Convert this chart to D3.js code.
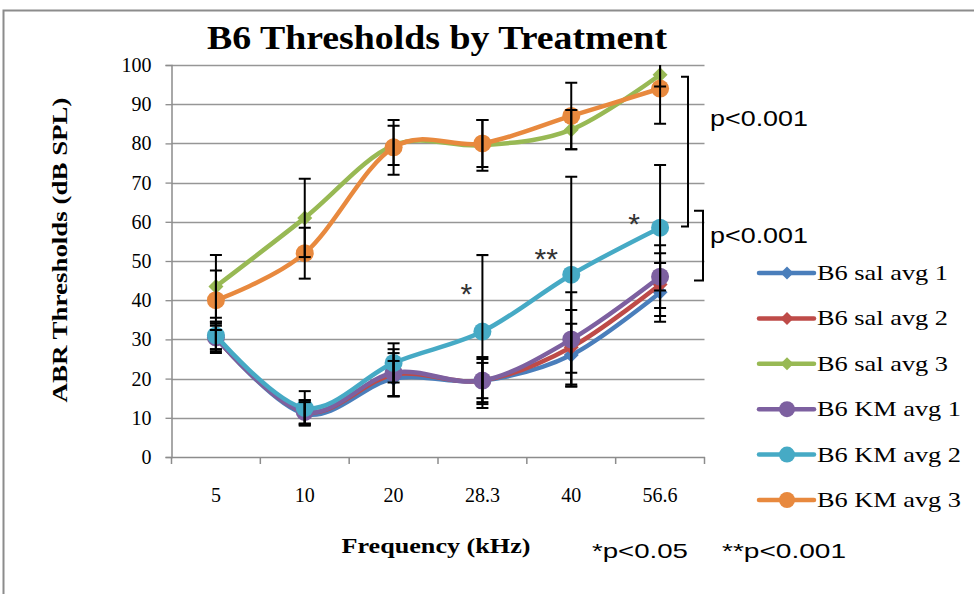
<!DOCTYPE html>
<html><head><meta charset="utf-8">
<script src="https://cdn.jsdelivr.net/npm/d3@7"></script>
<style>html,body{margin:0;padding:0;background:#fff;overflow:hidden}
.sf{font-family:"Liberation Serif","Times New Roman",Tinos,Times,serif}
.ss{font-family:"Liberation Sans",Arial,Arimo,Helvetica,sans-serif}</style>
</head><body><svg id="c" width="974" height="594"></svg>
<script>
const categories = ["5","10","20","28.3","40","56.6"];
const seriesNames = ["B6 sal avg 1","B6 sal avg 2","B6 sal avg 3","B6 KM avg 1","B6 KM avg 2","B6 KM avg 3"];
const salAvg1 = [30.5, 11, 20, 19.5, 26, 42];
const salAvg2 = [30.5, 11.5, 21, 19.5, 28, 44];
const salAvg3 = [43.5, 61, 79.5, 79.5, 83.5, 97.5];
const kmAvg1 = [30.5, 11.5, 21.5, 19.5, 30, 46];
const kmAvg2 = [31, 12.5, 24, 32, 46.5, 58.5];
const kmAvg3 = [40, 52, 79, 80, 87, 94];
const salErr1 = [4, 3, 4.5, 4.5, 8, 7.5];
const salErr2 = [3.5, 3, 5.5, 6, 9.5, 8];
const salErr3 = [8, 10, 5, 6.5, 5, 3];
const kmErr1 = [3, 3, 6, 5.5, 12, 8];
const kmErr2 = [3.5, 4.3, 5, 19.5, 25, 16];
const kmErr3 = [7.6, 6.5, 7, 6, 8.5, 9];
const yTicks = [0,10,20,30,40,50,60,70,80,90,100];
const colors = ["#4A7EBB","#BE4B48","#98B954","#7D60A0","#46AAC5","#E8893E"];
const markers = ["diamond","diamond","diamond","circle","circle","circle"];
const allValues = [salAvg1, salAvg2, salAvg3, kmAvg1, kmAvg2, kmAvg3];
const allErrors = [salErr1, salErr2, salErr3, kmErr1, kmErr2, kmErr3];
const sigStars = [{cat:"28.3", value:43, label:"*", dx:-16}, {cat:"40", value:52, label:"**", dx:-25}, {cat:"56.6", value:61, label:"*", dx:-26}];

const svg = d3.select("#c");

// outer border
svg.append("rect").attr("x",3.5).attr("y",10.5).attr("width",2000).attr("height",2000)
  .attr("fill","none").attr("stroke","#8c8c8c").attr("stroke-width",2);

const L = 171.5, R = 704.5, T = 65, B = 457;
const x = d3.scaleBand().domain(categories).range([L,R]);
const y = d3.scaleLinear().domain([0,100]).range([B,T]);
const cx = c => x(c) + x.bandwidth()/2;

// gridlines
svg.append("g").selectAll("line").data(yTicks.filter(d=>d>0)).join("line")
  .attr("x1",L).attr("x2",R).attr("y1",d=>Math.round(y(d))+0.5).attr("y2",d=>Math.round(y(d))+0.5)
  .attr("stroke","#969696").attr("stroke-width",1.3);

// y axis
const yAxis = svg.append("g").attr("transform",`translate(${L},0)`)
  .call(d3.axisLeft(y).tickValues(yTicks).tickSize(6).tickPadding(14));
yAxis.attr("font-family",null).attr("font-size",null);
yAxis.select(".domain").attr("stroke","#8c8c8c").attr("stroke-width",1.5);
yAxis.selectAll(".tick line").attr("stroke","#8c8c8c").attr("stroke-width",1.3);
yAxis.selectAll(".tick text").attr("class","sf").style("font-size","20px").attr("fill","#000");

// x axis
const xAxis = svg.append("g").attr("transform",`translate(0,${B})`)
  .call(d3.axisBottom(x).tickSize(0).tickPadding(31));
xAxis.attr("font-family",null).attr("font-size",null);
xAxis.select(".domain").attr("stroke","#8c8c8c").attr("stroke-width",1.5);
xAxis.selectAll(".tick text").attr("class","sf").style("font-size","20px").attr("fill","#000");
const edges = categories.map(c=>x(c)).concat([R]);
svg.append("g").selectAll("line").data(edges).join("line")
  .attr("x1",d=>d).attr("x2",d=>d).attr("y1",B).attr("y2",B+7)
  .attr("stroke","#8c8c8c").attr("stroke-width",1.5);

// series lines
svg.append("clipPath").attr("id","pc").append("rect")
  .attr("x",L-20).attr("y",T-12).attr("width",R-L+40).attr("height",B-T+12);
const line = d3.line().x((d,i)=>cx(categories[i])).y(d=>y(d)).curve(d3.curveCardinal.tension(0));
const plot = svg.append("g").attr("clip-path","url(#pc)");
function drawMarker(g, type, px, py, color, s){
  if(type==="diamond"){
    g.append("path").attr("d",`M${px},${py-s}L${px+s},${py}L${px},${py+s}L${px-s},${py}Z`).attr("fill",color);
  } else {
    g.append("circle").attr("cx",px).attr("cy",py).attr("r",s+1.5).attr("fill",color);
  }
}
allValues.forEach((vals,si)=>{
  const g = plot.append("g");
  g.append("path").datum(vals).attr("d",line).attr("fill","none")
    .attr("stroke",colors[si]).attr("stroke-width",4.5).attr("stroke-linejoin","round");
  vals.forEach((v,i)=>drawMarker(g, markers[si], cx(categories[i]), y(v), colors[si], 7.5));
});

// error bars
const eb = plot.append("g").attr("stroke","#000").attr("stroke-width",2);
allValues.forEach((vals,si)=>{
  vals.forEach((v,i)=>{
    const e = allErrors[si][i], px = cx(categories[i]);
    const top = Math.min(100, v+e), bot = v-e;
    eb.append("line").attr("x1",px).attr("x2",px).attr("y1",y(top)).attr("y2",y(bot));
    if (v+e <= 100) eb.append("line").attr("x1",px-6).attr("x2",px+6).attr("y1",y(v+e)).attr("y2",y(v+e));
    eb.append("line").attr("x1",px-6).attr("x2",px+6).attr("y1",y(bot)).attr("y2",y(bot));
  });
});

// significance stars (value = vertical centre of the glyph)
svg.append("g").selectAll("text").data(sigStars).join("text")
  .attr("class","ss").attr("x",d=>cx(d.cat)+d.dx).attr("y",d=>y(d.value)+16).attr("text-anchor","middle")
  .style("font-size","30px").attr("fill","#333").text(d=>d.label);

// brackets
const br = svg.append("g").attr("fill","none").attr("stroke","#000").attr("stroke-width",2);
br.append("path").attr("d",`M681,${y(97)}H688V${y(58.8)}H681`);
br.append("path").attr("d",`M694,${y(62.8)}H703V${y(45)}H694`);
svg.append("text").attr("class","ss").attr("x",710).attr("y",126).style("font-size","22px")
  .attr("textLength",98).attr("lengthAdjust","spacingAndGlyphs").text("p<0.001");
svg.append("text").attr("class","ss").attr("x",710).attr("y",243).style("font-size","22px")
  .attr("textLength",98).attr("lengthAdjust","spacingAndGlyphs").text("p<0.001");

// title
svg.append("text").attr("class","sf").attr("x",437).attr("y",49).attr("text-anchor","middle")
  .style("font-weight","bold").style("font-size","33px")
  .attr("textLength",460).attr("lengthAdjust","spacingAndGlyphs").text("B6  Thresholds by Treatment");

// axis titles
svg.append("text").attr("class","sf").attr("transform","translate(67,250) rotate(-90)").attr("text-anchor","middle")
  .style("font-weight","bold").style("font-size","21px")
  .attr("textLength",305).attr("lengthAdjust","spacingAndGlyphs").text("ABR Thresholds (dB SPL)");
svg.append("text").attr("class","sf").attr("x",436).attr("y",553).attr("text-anchor","middle")
  .style("font-weight","bold").style("font-size","21px")
  .attr("textLength",189).attr("lengthAdjust","spacingAndGlyphs").text("Frequency (kHz)");
svg.append("text").attr("class","ss").attr("x",592).attr("y",558).style("font-size","21px")
  .attr("textLength",96).attr("lengthAdjust","spacingAndGlyphs").text("*p<0.05");
svg.append("text").attr("class","ss").attr("x",722).attr("y",558).style("font-size","21px")
  .attr("textLength",124).attr("lengthAdjust","spacingAndGlyphs").text("**p<0.001");

// legend
const leg = svg.append("g");
seriesNames.forEach((n,i)=>{
  const ly = 273 + i*45.4;
  leg.append("line").attr("x1",759).attr("x2",814).attr("y1",ly).attr("y2",ly)
    .attr("stroke",colors[i]).attr("stroke-width",4.5).attr("stroke-linecap","round");
  drawMarker(leg, markers[i], 787, ly, colors[i], 6.5);
  leg.append("text").attr("class","sf").attr("x",817).attr("y",ly+7).style("font-size","22px")
    .attr("textLength", n.includes("KM") ? 144 : 131).attr("lengthAdjust","spacingAndGlyphs").text(n);
});
</script></body></html>
